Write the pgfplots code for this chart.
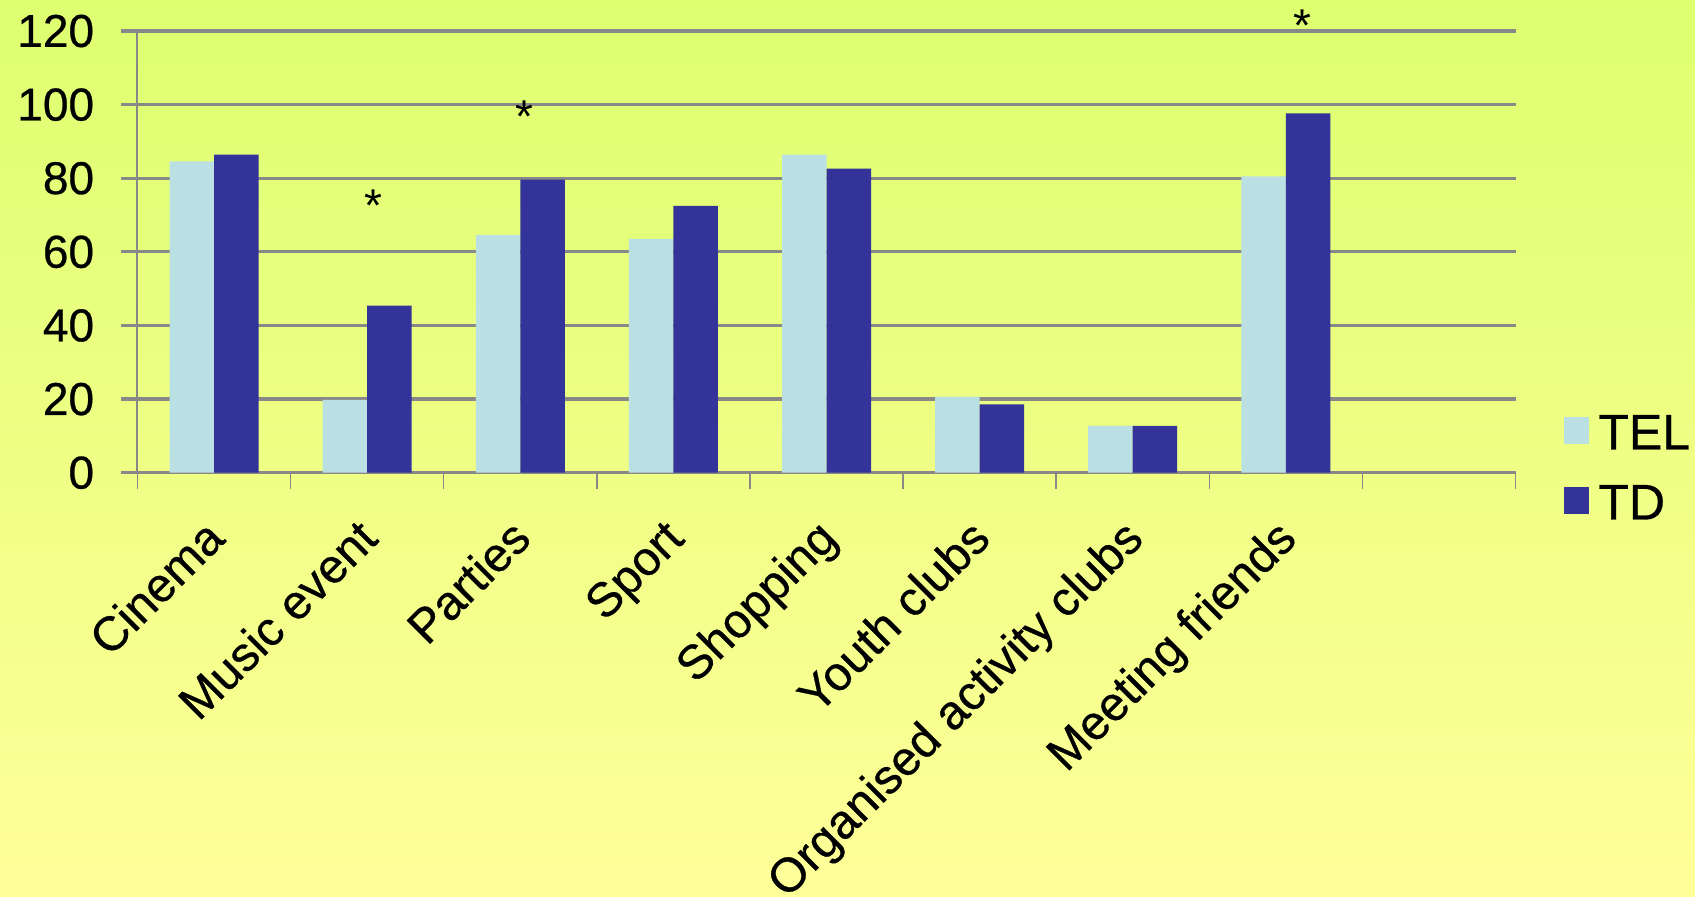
\documentclass[border=0pt]{standalone}
\usepackage{fontspec}
\setmainfont{Liberation Sans}
\usepackage{pgfplots}
\pgfplotsset{compat=1.18}
\definecolor{bgtop}{RGB}{221,255,112}
\definecolor{bgbot}{RGB}{255,255,153}
\definecolor{telcol}{RGB}{187,224,227}
\definecolor{tdcol}{RGB}{51,51,153}
\definecolor{gridgray}{RGB}{136,136,136}
\begin{document}
\begin{tikzpicture}
\path[use as bounding box] (-68.75pt,-211.65pt) rectangle (778.75pt,236.35pt);
\shade[top color=bgtop, bottom color=bgbot] (-68.75pt,-211.65pt) rectangle (778.75pt,236.35pt);
\begin{axis}[
  at={(0pt,0pt)}, anchor=south west,
  scale only axis, width=689pt, height=220.85pt,
  xmin=-0.5, xmax=8.5, ymin=0, ymax=120,
  axis x line*=bottom, axis y line*=left,
  x axis line style={draw=gridgray, line width=1.6pt},
  y axis line style={draw=gridgray, line width=1pt},
  ytick={0,20,...,120},
  ymajorgrids,
  grid style={draw=gridgray, line width=1.6pt},
  tick align=outside, major tick length=8pt,
  ytick style={draw=gridgray, line width=1.6pt},
  xtick style={draw=gridgray, line width=0.7pt},
  xtick={-0.5,0.5,...,8.5},
  x tick label as interval,
  xticklabels={Cinema,Music event,Parties,Sport,Shopping,Youth clubs,Organised activity clubs,Meeting friends,{}},
  xticklabel style={font=\fontsize{24}{28}\selectfont\addfontfeature{FakeBold=0.6}, xshift=6.5pt, yshift=-26pt, rotate=45, anchor=base east, inner sep=0pt},
  yticklabel style={font=\fontsize{23}{27}\selectfont\addfontfeature{FakeBold=0.6}, inner sep=0pt, xshift=-13.5pt},
  /pgf/number format/assume math mode=true,
  ybar=0pt, bar width=22.25pt,
  clip=false,
  legend style={at={(1.0352,0.1306)}, anchor=north west, draw=none, fill=none,
    inner sep=0pt, row sep=18pt, column sep=4.5pt,
    font=\fontsize{25}{29}\selectfont\addfontfeature{FakeBold=0.6},
    nodes={inner sep=0pt, text height=17pt, text depth=0pt}},
  legend cell align=left,
  legend image code/.code={\fill[#1, draw=none] (0pt,-6pt) rectangle (12.5pt,7.5pt);},
]
\addplot[fill=telcol, draw=none] coordinates {(0,84.6) (1,19.8) (2,64.6) (3,63.5) (4,86.4) (5,20.7) (6,12.7) (7,80.5)};
\addplot[fill=tdcol, draw=none] coordinates {(0,86.4) (1,45.4) (2,79.6) (3,72.5) (4,82.6) (5,18.6) (6,12.7) (7,97.6)};
\legend{TEL,TD}
\node[anchor=base, font=\fontsize{23}{27}\selectfont, inner sep=0pt] at (axis cs:1.04,68.2) {*};
\node[anchor=base, font=\fontsize{23}{27}\selectfont, inner sep=0pt] at (axis cs:2.03,92.4) {*};
\node[anchor=base, font=\fontsize{23}{27}\selectfont, inner sep=0pt] at (axis cs:7.11,117.2) {*};
\end{axis}
\end{tikzpicture}
\end{document}
